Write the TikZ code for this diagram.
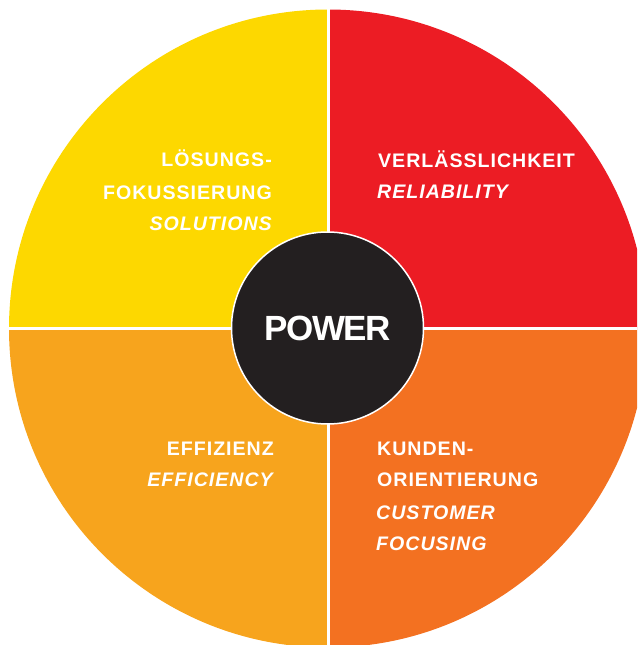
\documentclass[tikz,border=0pt]{standalone}
\usepackage{fontspec}
\setmainfont{Liberation Sans}
\newfontfamily\labfont[LetterSpace=5]{Liberation Sans}
\newfontfamily\powfont[LetterSpace=-4]{Liberation Sans}
\definecolor{qyellow}{HTML}{FDD800}
\definecolor{qred}{HTML}{EC1C24}
\definecolor{qgold}{HTML}{F7A41D}
\definecolor{qorange}{HTML}{F37121}
\definecolor{qblack}{HTML}{231F20}
\begin{document}
\begin{tikzpicture}[x=1pt,y=-1pt,
  lab/.style={text=white,inner sep=0pt,font=\labfont\fontsize{19.6}{22}\selectfont\bfseries},
  labit/.style={lab,font=\labfont\fontsize{19.6}{22}\selectfont\bfseries\itshape},
  gap/.style={white,line width=3pt}]
\useasboundingbox (0,0) rectangle (637,645);
\clip (0,0) rectangle (637,645);
\coordinate (c) at (328,328.5);
\fill[qyellow] (c) -- ++(-319,0) arc[start angle=180,end angle=270,radius=319] -- cycle;
\fill[qred] (c) -- ++(0,-319) arc[start angle=270,end angle=360,radius=319] -- cycle;
\fill[qorange] (c) -- ++(319,0) arc[start angle=0,end angle=90,radius=319] -- cycle;
\fill[qgold] (c) -- ++(0,319) arc[start angle=90,end angle=180,radius=319] -- cycle;
\draw[gap] (c) -- ++(-330,0);
\draw[gap] (c) -- ++(330,0);
\draw[gap] (c) -- ++(0,-330);
\draw[gap] (c) -- ++(0,330);
\node[circle,fill=qblack,draw=white,line width=1.5pt,minimum size=192pt,inner sep=0pt,
  text=white,font=\powfont\fontsize{35}{40}\selectfont\bfseries] (power) at (327.5,328) {POWER};
% top left
\node[lab,anchor=base east] (l1) at (272,166.7) {LÖSUNGS-};
\node[lab,anchor=base east] (l2) at (272,199) {FOKUSSIERUNG};
\node[labit,anchor=base east] (l3) at (272,230.8) {SOLUTIONS};
% top right
\node[lab,anchor=base west] (r1) at (378,167.3) {VERLÄSSLICHKEIT};
\node[labit,anchor=base west] (r2) at (377,198.8) {RELIABILITY};
% bottom left
\node[lab,anchor=base east] (e1) at (274,455) {EFFIZIENZ};
\node[labit,anchor=base east] (e2) at (273,486.7) {EFFICIENCY};
% bottom right
\node[lab,anchor=base west] (k1) at (377,455) {KUNDEN-};
\node[lab,anchor=base west] (k2) at (377,486.7) {ORIENTIERUNG};
\node[labit,anchor=base west] (k3) at (376,519) {CUSTOMER};
\node[labit,anchor=base west] (k4) at (376,550.7) {FOCUSING};
\end{tikzpicture}
\end{document}
